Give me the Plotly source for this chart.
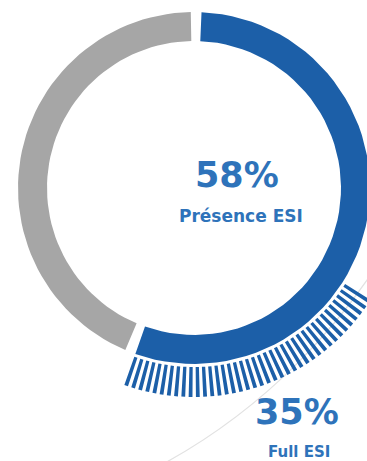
import numpy as np
import plotly.graph_objects as go

# ---- data ----
ring_labels = ["Présence ESI", "Autres"]
ring_drawn_share = [55.7, 44.3]      # % of the circle each arc occupies as drawn
presence_value = 58                   # headline number "58%"
full_label = "Full ESI"
full_value = 35                       # headline number "35%"
full_drawn_share = 21.5               # % of circle covered by the striped band as drawn

# ---- styles ----
BLUE = "#1C5FA8"
GREY = "#A6A6A6"
TEXT_BLUE = "#2E73BA"
W, H = 367, 461
CX, CY = 194, 188            # ring centre (pixels)
R_IN, R_OUT = 147, 176       # ring radii
S_IN, S_OUT = 179, 209       # stripe radii
ROT = 0.7                    # angular offset of the ring, degrees
GAP = 3.5                    # degrees between ring segments
STRIPE_STEP = 2.0            # degrees between stripes
STRIPE_W = 1.05              # stripe width, degrees


def sector(a0, a1, r0, r1, n=60):
    t = np.radians(np.linspace(a0, a1, n) + ROT)
    xs = np.concatenate([CX + r1 * np.sin(t), CX + r0 * np.sin(t[::-1])])
    ys = np.concatenate([CY - r1 * np.cos(t), CY - r0 * np.cos(t[::-1])])
    return list(np.append(xs, xs[0])), list(np.append(ys, ys[0]))


fig = go.Figure()

# ring segments
ends = np.cumsum(ring_drawn_share) * 3.6
starts = ends - np.array(ring_drawn_share) * 3.6
for a0, a1, col, lab in zip(starts, ends, [BLUE, GREY], ring_labels):
    x, y = sector(a0 + GAP / 2, a1 - GAP / 2, R_IN, R_OUT)
    fig.add_trace(go.Scatter(x=x, y=y, fill="toself", fillcolor=col, mode="lines",
                             line=dict(width=0, color=col), hoverinfo="skip", name=lab))

# stripes, aligned with the end of the blue arc
blue_end = ends[0] - GAP / 2
span = full_drawn_share * 3.6
n = int(round(span / STRIPE_STEP))
sx, sy = [], []
for k in range(n):
    a1 = blue_end - k * STRIPE_STEP
    x, y = sector(a1 - STRIPE_W, a1, S_IN, S_OUT, n=4)
    sx += x + [None]
    sy += y + [None]
fig.add_trace(go.Scatter(x=sx, y=sy, fill="toself", fillcolor=BLUE, mode="lines",
                         line=dict(width=0, color=BLUE), hoverinfo="skip", name=full_label))

axis = dict(visible=False, showgrid=False, zeroline=False, fixedrange=True)
fig.update_layout(
    width=W, height=H, margin=dict(l=0, r=0, t=0, b=0),
    paper_bgcolor="white", plot_bgcolor="white", showlegend=False,
    xaxis=dict(range=[0, W], **axis),
    yaxis=dict(range=[H, 0], **axis),
    shapes=[dict(type="circle", xref="x", yref="y", layer="below",
                 x0=-124.5 - 597.6, x1=-124.5 + 597.6,
                 y0=-60 - 597.6, y1=-60 + 597.6,
                 line=dict(color="#E2E2E2", width=1.2))],
)


def ann(text, px, py, size):
    return dict(text=f"<b>{text}</b>", x=px, y=py, xref="x", yref="y",
                xanchor="center", yanchor="middle", showarrow=False,
                font=dict(family="DejaVu Sans", size=size, color=TEXT_BLUE))


fig.update_layout(annotations=[
    ann(f"{presence_value}%", 237, 175, 35),
    ann(ring_labels[0], 241, 216, 17),
    ann(f"{full_value}%", 297, 412, 35),
    ann(full_label, 299, 452, 15),
])

fig.write_html("out.html")
